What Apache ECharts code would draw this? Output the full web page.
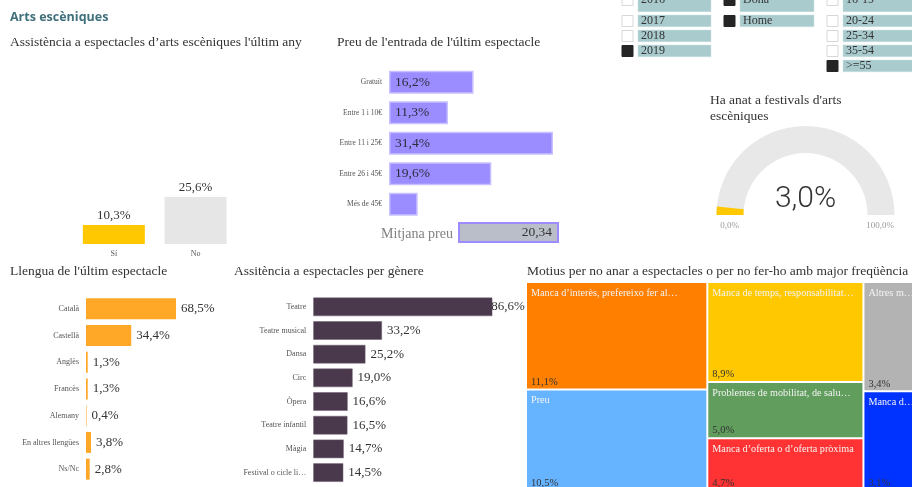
<!DOCTYPE html>
<html lang="ca">
<head>
    <meta charset="UTF-8">
    <title>Arts escèniques</title>
    <script src="https://cdn.jsdelivr.net/npm/echarts@6/dist/echarts.min.js"></script>
    <style>
        html, body { margin: 0; padding: 0; background: #fff; }
        #main { width: 912px; height: 487px; }
    </style>
</head>
<body>
<div id="main"></div>
<script>
    // --- dades ---
    const assistCats = ['Sí', 'No'];
    const assistVals = [10.3, 25.6];

    const preuCats = ['Gratuït', 'Entre 1 i 10€', 'Entre 11 i 25€', 'Entre 26 i 45€', 'Més de 45€'];
    const preuVals = [16.2, 11.3, 31.4, 19.6, 5.5];
    const mitjanaPreu = 20.34;

    const llenguaCats = ['Català', 'Castellà', 'Anglès', 'Francès', 'Alemany', 'En altres llengües', 'Ns/Nc'];
    const llenguaVals = [68.5, 34.4, 1.3, 1.3, 0.4, 3.8, 2.8];

    const genereCats = ['Teatre', 'Teatre musical', 'Dansa', 'Circ', 'Òpera', 'Teatre infantil', 'Màgia', 'Festival o cicle literari'];
    const genereVals = [86.6, 33.2, 25.2, 19.0, 16.6, 16.5, 14.7, 14.5];

    const festivalsVal = 3.0;
    const gaugeMin = 0;
    const gaugeMax = 100;

    const motiusNames = [
        'Manca d’interès, prefereixo fer altres activitats',
        'Preu',
        'Manca de temps, responsabilitats familiars',
        'Problemes de mobilitat, de salut o edat',
        'Manca d’oferta o d’oferta pròxima',
        'Altres motius',
        'Manca d’informació'
    ];
    const motiusVals = [11.1, 10.5, 8.9, 5.0, 4.7, 3.4, 3.1];

    const anys = ['2016', '2017', '2018', '2019'];
    const anysSel = [false, false, false, true];
    const sexe = ['Dona', 'Home'];
    const sexeSel = [true, true];
    const edats = ['16-19', '20-24', '25-34', '35-54', '>=55'];
    const edatsSel = [false, false, false, false, true];

    // --- estils ---
    const serif = "'Liberation Serif', 'DejaVu Serif', serif";
    const motiusColors = ['#FF7F00', '#66B3FF', '#FFC800', '#619D5D', '#FF3333', '#B3B3B3', '#0033FF'];
    const assistColors = ['#FFC800', '#E6E6E6'];
    const fmt = v => v.toFixed(1).replace('.', ',') + '%';

    const chart = echarts.init(document.getElementById('main'));

    const catAxis = (gi, data, extra) => Object.assign({
        gridIndex: gi, type: 'category', data: data, inverse: true,
        axisLine: { show: false }, axisTick: { show: false },
        axisLabel: { fontFamily: serif, fontSize: 8, color: '#555', margin: 7 }
    }, extra || {});

    // titols i controls
    const titols = [
        { text: 'Assistència a espectacles d’arts escèniques l\'últim any', x: 10, y: 42 },
        { text: 'Preu de l\'entrada de l\'últim espectacle', x: 337, y: 42 },
        { text: 'Ha anat a festivals d\'arts', x: 710, y: 100 },
        { text: 'escèniques', x: 710, y: 116 },
        { text: 'Llengua de l\'últim espectacle', x: 10, y: 271 },
        { text: 'Assitència a espectacles per gènere', x: 234, y: 271 },
        { text: 'Motius per no anar a espectacles o per no fer-ho amb major freqüència', x: 527, y: 271 }
    ];

    const graphics = [];
    graphics.push({
        type: 'text', x: 10, y: 17,
        style: { text: 'Arts escèniques', font: "bold 12.5px 'Open Sans', 'Noto Sans', sans-serif", fill: '#40707C', verticalAlign: 'middle' }
    });
    titols.forEach(t => graphics.push({
        type: 'text', x: t.x, y: t.y,
        style: { text: t.text, fontFamily: serif, fontSize: 13.5, fill: '#333', verticalAlign: 'middle' }
    }));

    // Mitjana preu
    graphics.push({
        type: 'text', x: 453, y: 234,
        style: { text: 'Mitjana preu', fontFamily: serif, fontSize: 14, fill: '#808080', align: 'right', verticalAlign: 'middle' }
    });
    graphics.push({
        type: 'rect', shape: { x: 459, y: 223, width: 99, height: 19 },
        style: { fill: '#B9BEC8', stroke: '#9C8CFF', lineWidth: 2 }
    });
    graphics.push({
        type: 'text', x: 552, y: 232.5,
        style: { text: mitjanaPreu.toFixed(2).replace('.', ','), fontFamily: serif, fontSize: 13.5, fill: '#333', align: 'right', verticalAlign: 'middle' }
    });

    // etiquetes min/max del gauge
    graphics.push({
        type: 'text', x: 729.5, y: 226,
        style: { text: fmt(gaugeMin), fontFamily: serif, fontSize: 9, fill: '#999', align: 'center', verticalAlign: 'middle' }
    });
    graphics.push({
        type: 'text', x: 880, y: 226,
        style: { text: fmt(gaugeMax), fontFamily: serif, fontSize: 9, fill: '#999', align: 'center', verticalAlign: 'middle' }
    });

    // slicers (la primera fila queda mig tallada pel scroll)
    function slicer(x0, boxW, items, sel) {
        items.forEach((lab, i) => {
            const cy = i === 0 ? 0 : 21 + 15 * (i - 1);
            const by = i === 0 ? -8 : cy - 6;
            const bh = i === 0 ? 19.7 : 11.7;
            graphics.push({
                type: 'rect', shape: { x: x0, y: cy - 5.5, width: 11, height: 11 },
                style: { fill: sel[i] ? '#252525' : '#fff', stroke: sel[i] ? '#252525' : '#d8d8d8', lineWidth: 1 }
            });
            graphics.push({
                type: 'rect', shape: { x: x0 + 16, y: by, width: boxW, height: bh },
                style: { fill: '#A9CBCE', stroke: '#C9E0E2', lineWidth: 0.5 }
            });
            graphics.push({
                type: 'text', x: x0 + 19, y: cy,
                style: { text: lab, fontFamily: serif, fontSize: 12, fill: '#333', verticalAlign: 'middle' }
            });
        });
    }
    slicer(622, 73, anys, anysSel);
    slicer(724, 74, sexe, sexeSel);
    slicer(827, 80, edats, edatsSel);

    const treeBox = { left: 527, top: 283, width: 390, height: 207 };

    const option = {
        animation: false,
        backgroundColor: '#fff',
        textStyle: { fontFamily: serif },
        grid: [
            { left: 73, top: 60, width: 163.4, height: 184, outerBoundsMode: 'none' },
            { left: 389, top: 67, width: 164, height: 152.5, outerBoundsMode: 'none' },
            { left: 86, top: 295.5, width: 131.4, height: 187, outerBoundsMode: 'none' },
            { left: 313.3, top: 295, width: 206.7, height: 189.4, outerBoundsMode: 'none' }
        ],
        xAxis: [
            {
                gridIndex: 0, type: 'category', data: assistCats,
                axisLine: { show: false }, axisTick: { show: false },
                axisLabel: { fontFamily: serif, fontSize: 8, color: '#555', margin: 6 }
            },
            { gridIndex: 1, type: 'value', min: 0, max: 31.4, show: false },
            { gridIndex: 2, type: 'value', min: 0, max: 100, show: false },
            { gridIndex: 3, type: 'value', min: 0, max: 100, show: false }
        ],
        yAxis: [
            { gridIndex: 0, type: 'value', min: 0, max: 100, show: false },
            catAxis(1, preuCats, { axisLabel: { fontFamily: serif, fontSize: 7.5, color: '#555', margin: 7 } }),
            catAxis(2, llenguaCats),
            catAxis(3, genereCats, {
                axisLabel: { fontFamily: serif, fontSize: 8, color: '#555', margin: 7, width: 64, overflow: 'truncate', ellipsis: '…' }
            })
        ],
        graphic: graphics,
        series: [
            {
                type: 'bar', xAxisIndex: 0, yAxisIndex: 0, data: assistVals, barWidth: 62,
                itemStyle: { color: p => assistColors[p.dataIndex] },
                label: { show: true, position: 'top', distance: 3, fontFamily: serif, fontSize: 13, color: '#333', formatter: p => fmt(p.value) }
            },
            {
                type: 'bar', xAxisIndex: 1, yAxisIndex: 1, data: preuVals, barWidth: 23,
                itemStyle: { color: '#9B8CFF', borderColor: '#C9C1FF', borderWidth: 1.5 },
                label: {
                    show: true, position: 'insideLeft', distance: 6, fontFamily: serif, fontSize: 13.5, color: '#2b2b3a',
                    formatter: p => (p.value >= 8 ? fmt(p.value) : '')
                }
            },
            {
                type: 'bar', xAxisIndex: 2, yAxisIndex: 2, data: llenguaVals, barWidth: 21,
                itemStyle: { color: '#FFA726' },
                label: { show: true, position: 'right', distance: 5, fontFamily: serif, fontSize: 13, color: '#333', formatter: p => fmt(p.value) }
            },
            {
                type: 'bar', xAxisIndex: 3, yAxisIndex: 3, barWidth: 18.5,
                // l'etiqueta de la barra mes llarga queda enganxada al final, com a l'original
                data: genereVals.map(v => (v === Math.max(...genereVals) ? { value: v, label: { distance: -1 } } : v)),
                itemStyle: { color: '#4A384C', borderColor: '#6E5E70', borderWidth: 0.5 },
                label: { show: true, position: 'right', distance: 5, fontFamily: serif, fontSize: 13, color: '#333', formatter: p => fmt(p.value) }
            },
            {
                type: 'gauge', center: [805.5, 215], radius: 89,
                startAngle: 180, endAngle: 0, min: gaugeMin, max: gaugeMax,
                axisLine: { lineStyle: { width: 27, color: [[1, '#E8E8E8']] } },
                progress: { show: true, width: 27, roundCap: false, itemStyle: { color: '#FFC800' } },
                pointer: { show: false }, anchor: { show: false },
                axisTick: { show: false }, splitLine: { show: false }, axisLabel: { show: false },
                title: { show: false },
                detail: {
                    offsetCenter: [0, -16], fontSize: 30, fontWeight: 300,
                    fontFamily: "Roboto, 'Open Sans', sans-serif", color: '#333',
                    formatter: v => fmt(v)
                },
                data: [{ value: festivalsVal }]
            },
            {
                type: 'treemap', ...treeBox, squareRatio: 2,
                roam: false, nodeClick: false, breadcrumb: { show: false },
                itemStyle: { borderWidth: 0, gapWidth: 2 },
                label: {
                    show: true, position: 'insideTopLeft', distance: 0, padding: [5, 0, 5, 4],
                    fontFamily: serif, fontSize: 10.2, color: '#f4f4f4',
                    overflow: 'truncate', ellipsis: '…'
                },
                emphasis: { disabled: true },
                data: motiusNames.map((n, i) => ({ name: n, value: motiusVals[i], itemStyle: { color: motiusColors[i] } }))
            },
            {
                type: 'treemap', ...treeBox, squareRatio: 2, silent: true,
                roam: false, nodeClick: false, breadcrumb: { show: false },
                itemStyle: { borderWidth: 0, gapWidth: 2 },
                label: {
                    show: true, position: 'insideBottomLeft', distance: 0, padding: [0, 4, 1, 4],
                    fontFamily: serif, fontSize: 10.5, color: '#333',
                    formatter: p => fmt(p.value)
                },
                emphasis: { disabled: true },
                data: motiusNames.map((n, i) => ({ name: n, value: motiusVals[i], itemStyle: { color: 'rgba(0,0,0,0)' } }))
            }
        ]
    };
    chart.setOption(option);
</script>
</body>
</html>
